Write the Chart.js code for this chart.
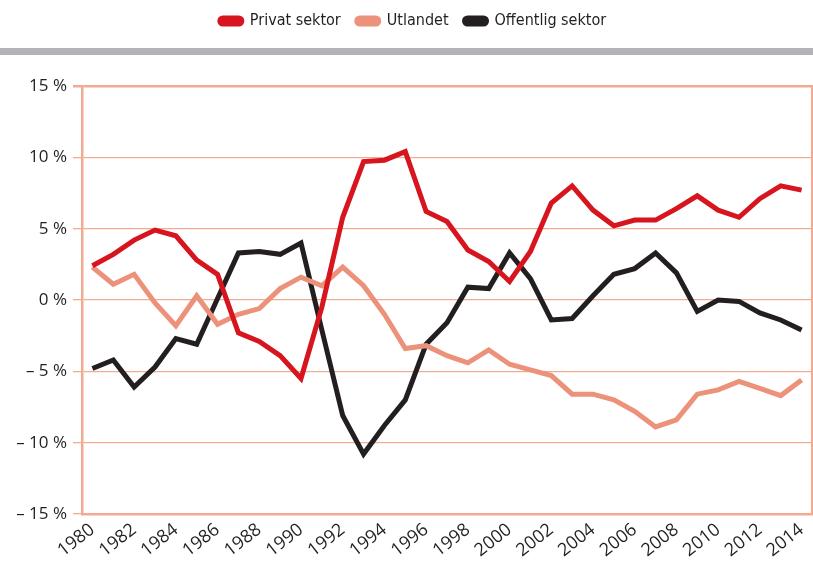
<!DOCTYPE html>
<html>
<head>
<meta charset="utf-8">
<script src="https://cdn.jsdelivr.net/npm/chart.js@4.4.1/dist/chart.umd.min.js"></script>
<style>
  html, body { margin: 0; padding: 0; background: #fff; }
  #wrap { width: 813px; height: 563px; position: relative; }
</style>
</head>
<body>
<div id="wrap"><canvas id="balanceChart"></canvas></div>
<script>
// Years on the x axis
const years = ['1980','1981','1982','1983','1984','1985','1986','1987','1988','1989',
               '1990','1991','1992','1993','1994','1995','1996','1997','1998','1999',
               '2000','2001','2002','2003','2004','2005','2006','2007','2008','2009',
               '2010','2011','2012','2013','2014'];

// Financial balance, percent
const privatSektor = [2.4, 3.2, 4.2, 4.9, 4.5, 2.8, 1.8, -2.3, -2.9, -3.9,
                      -5.5, -0.5, 5.8, 9.7, 9.8, 10.4, 6.2, 5.5, 3.5, 2.7,
                      1.3, 3.4, 6.8, 8.0, 6.3, 5.2, 5.6, 5.6, 6.4, 7.3,
                      6.3, 5.8, 7.1, 8.0, 7.7];
const utlandet = [2.3, 1.1, 1.8, -0.2, -1.8, 0.3, -1.7, -1.0, -0.6, 0.8,
                  1.6, 1.0, 2.3, 1.0, -1.0, -3.4, -3.2, -3.9, -4.4, -3.5,
                  -4.5, -4.9, -5.3, -6.6, -6.6, -7.0, -7.8, -8.9, -8.4, -6.6,
                  -6.3, -5.7, -6.2, -6.7, -5.6];
const offentligSektor = [-4.8, -4.2, -6.1, -4.7, -2.7, -3.1, 0.1, 3.3, 3.4, 3.2,
                         4.0, -2.1, -8.1, -10.8, -8.8, -7.0, -3.1, -1.6, 0.9, 0.8,
                         3.3, 1.5, -1.4, -1.3, 0.3, 1.8, 2.2, 3.3, 1.9, -0.8,
                         0.0, -0.1, -0.9, -1.4, -2.1];

// Y axis ticks
const yTicks = [-15, -10, -5, 0, 5, 10, 15];

const salmonGrid = '#f2aa93';

// Grey rule under the legend + right frame line
const decorPlugin = {
    id: 'decor',
    beforeInit(chart) {
        const fit = chart.legend.fit;
        chart.legend.fit = function () {
            fit.bind(chart.legend)();
            this.height = 86;
        };
    },
    afterLayout(chart) {
        const lg = chart.legend;
        lg.top -= 3;
        lg.bottom -= 3;
        lg.left += 7;
        lg.right += 7;
    },
    beforeDraw(chart) {
        const c = chart.ctx;
        c.save();
        c.fillStyle = '#b3b4b7';
        c.fillRect(0, 48, chart.width, 7);
        c.restore();
    },
    afterDraw(chart) {
        const c = chart.ctx;
        const a = chart.chartArea;
        c.save();
        c.strokeStyle = salmonGrid;
        c.lineWidth = 2;
        c.beginPath();
        c.moveTo(a.right, a.top - 1);
        c.lineTo(a.right, a.bottom + 1);
        c.stroke();
        c.restore();
    }
};

function makeSet(label, data, color) {
    return {
        label: label,
        data: data,
        borderColor: color,
        backgroundColor: color,
        borderWidth: 5,
        pointRadius: 0,
        tension: 0,
        fill: false
    };
}

const ctx = document.getElementById('balanceChart').getContext('2d');
new Chart(ctx, {
    type: 'line',
    data: {
        labels: years,
        datasets: [
            makeSet('Privat sektor', privatSektor, '#d7151f'),
            makeSet('Utlandet', utlandet, '#ec927a'),
            makeSet('Offentlig sektor', offentligSektor, '#231f20')
        ]
    },
    plugins: [decorPlugin],
    options: {
        responsive: true,
        maintainAspectRatio: false,
        animation: false,
        layout: { padding: { top: 0, right: 1, left: 0, bottom: 0 } },
        plugins: {
            tooltip: { enabled: false },
            legend: {
                position: 'top',
                align: 'center',
                labels: {
                    color: '#231f20',
                    font: { family: "'Liberation Sans Narrow', 'DejaVu Sans Condensed', sans-serif", size: 16 },
                    boxWidth: 22,
                    boxHeight: 6,
                    useBorderRadius: true,
                    borderRadius: 3,
                    padding: 16
                }
            }
        },
        scales: {
            x: {
                offset: true,
                grid: { display: true, drawOnChartArea: false, drawTicks: false },
                border: { display: true, color: salmonGrid, width: 2.5 },
                afterFit(scale) {
                    scale.height = 49;
                    scale.paddingRight = 0;
                },
                ticks: {
                    autoSkip: false,
                    maxRotation: 38,
                    minRotation: 38,
                    padding: 5,
                    color: '#231f20',
                    font: { family: "'Open Sans', sans-serif", size: 18 },
                    callback(value, index) {
                        return index % 2 === 0 ? years[index] : '';
                    }
                }
            },
            y: {
                min: -15,
                max: 15,
                afterFit(scale) { scale.width = 82; },
                afterBuildTicks(scale) {
                    scale.ticks = yTicks.map(v => ({ value: v }));
                },
                grid: {
                    color: salmonGrid,
                    lineWidth: c => (c.tick && c.tick.value === 15 ? 2.5 : 1.3),
                    tickLength: 9
                },
                border: { display: true, color: salmonGrid, width: 2.5 },
                ticks: {
                    padding: 6,
                    color: '#231f20',
                    font: { family: "'Open Sans', sans-serif", size: 17 },
                    callback(value) {
                        return value < 0 ? '\u2013 ' + Math.abs(value) + ' %' : value + ' %';
                    }
                }
            }
        }
    }
});
</script>
</body>
</html>
